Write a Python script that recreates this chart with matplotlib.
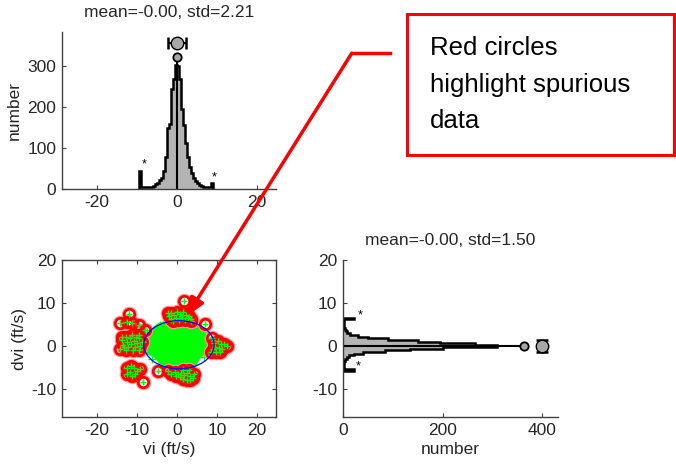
import numpy as np
import matplotlib
matplotlib.use("Agg")
import matplotlib.pyplot as plt
from matplotlib.patches import Ellipse, Rectangle, FancyArrowPatch, Polygon
from matplotlib.lines import Line2D

plt.rcParams['font.family'] = ['Liberation Sans', 'DejaVu Sans']
plt.rcParams['axes.unicode_minus'] = False
plt.rcParams['font.size'] = 12.5

# ---- data ----
# top histogram of vi, bins 0.5 ft/s wide starting at -9.5
vi_edges = np.arange(-9.5, 9.01, 0.5)
vi_counts = [45, 6, 5, 4, 4, 5, 6, 8, 11, 15, 22, 28, 45, 78, 150, 158, 245, 268, 302,
             300, 268, 195, 155, 112, 78, 54, 38, 27, 20, 15, 10, 7, 6, 5, 4, 5, 15]
vi_mean = 0.0
vi_std = 2.21
vi_peak_mark = 323
vi_mean_mark = 357

# right histogram of dvi, bins 0.4 ft/s wide starting at -5.8
dvi_edges = np.arange(-5.8, 6.61, 0.4)
dvi_counts = [23, 2, 2, 2, 3, 3, 5, 8, 13, 22, 40, 85, 135, 200, 310, 265, 195, 150,
              90, 50, 30, 15, 9, 6, 4, 3, 3, 2, 2, 2, 23]
dvi_mean = 0.0
dvi_std = 1.50
dvi_peak_mark = 364
dvi_mean_mark = 400

# outline of the dense green cloud
core_vi = [-2, -4.2, -5.5, -6.8, -8, -8.5, -8.3, -7.2, -5.5, -3.8, -2, 0.5, 3, 4.5,
           5.8, 7.5, 8.3, 8.5, 8, 6.5, 4.9, 3.3, 2.5, 0.5]
core_dvi = [5.8, 5.3, 4.5, 3, 1.4, 0, -0.9, -1.8, -2.5, -4.5, -5.5, -5.8, -5.5, -4.5,
            -2.5, -1.2, -0.5, 0, 1.4, 3, 4.5, 5.3, 5.8, 6]

# loose green points near the cloud edge
loose_vi = [-7.5, -6.5, -4.2, 5.0, 7.0, -8.8, 4.6, -6.2, 6.8, 3.8, -3.5, 8.9]
loose_dvi = [3.2, 3.8, 4.9, 4.8, 3.2, -0.5, -5.0, -3.0, -2.6, 5.4, -5.1, 0.6]

# spurious points (red circles)
spur_vi = [-2.0, -1.4, -0.8, 0.0, 0.8, 1.5, 2.2, 2.9, 3.4, -1.6, -0.9, -0.2, 0.6, 1.3, 2.0, 2.7, -2.2, 1.0, 3.6,
           -11.9, -14.25, -11.3, -9.4, -12.6, -8.0, -9.4, -13.8, 7.0, 1.75,
           -14.3, -13.5, -13.8, -12.8, -12.5, -12.2, -11.5, -11.8, -10.8, -10.5, -10.0, -9.5, -9.2, -9.6, -11.0, -12.8, -13.2, -10.2, -11.2, -8.8,
           -12.5, -11.5, -10.8, -11.8, -10.5, -12.6, -11.2, -9.2, -8.4, -10.0,
           -4.7, -2.2, -1.5, -0.6, 0.2, 1.0, 1.8, 2.5, 3.3, 3.9, 0.8, 1.6, 2.4, 3.2, -0.3, 2.9, 1.4, 4.2,
           9.3, 10.2, 11.0, 9.6, 10.5, 11.3, 12.4, 9.8, 10.8, 9.0, 11.8, 8.7, 8.5]
spur_dvi = [7.0, 7.7, 7.3, 7.8, 7.5, 7.9, 7.3, 7.0, 6.3, 6.2, 5.9, 6.6, 6.1, 6.5, 6.0, 6.4, 7.6, 7.0, 5.9,
            7.4, 5.3, 5.3, 5.0, 5.5, 3.7, 2.6, 2.2, 5.1, 10.4,
            -0.6, 0.3, 1.4, 2.2, 1.0, -0.3, 0.5, 1.8, 1.2, -0.2, 0.8, 1.8, 0.0, -0.9, -0.9, -0.9, -0.2, 2.2, 2.5, 0.9,
            -5.2, -4.6, -5.2, -6.0, -6.5, -6.4, -7.0, -5.3, -8.3, -5.8,
            -5.7, -5.8, -6.4, -6.0, -6.6, -6.2, -6.8, -6.3, -6.9, -7.4, -7.3, -7.6, -7.8, -7.9, -7.0, -5.6, -5.5, -6.5,
            0.8, 1.2, 0.5, -0.2, -0.5, -0.6, -0.1, -1.3, -1.5, -0.6, 0.4, 1.8, -1.5]

# blue ellipse round the good data
ell_center = (0.5, 0.3)
ell_width = 17.6
ell_height = 11.2

note_lines = ["Red circles", "highlight spurious", "data"]

# ---- figure ----
W, H = 676.0, 465.0
fig = plt.figure(figsize=(W / 100, H / 100), dpi=100)
txt = '#262626'
gray = '#b4b4b4'


def px_axes(l, t, r, b):
    return fig.add_axes([l / W, 1 - b / H, (r - l) / W, (b - t) / H])


def style(ax, box):
    for s in ['top', 'right']:
        ax.spines[s].set_visible(box)
    for s in ax.spines.values():
        s.set_color('#404040')
        s.set_linewidth(1.0)
    ax.tick_params(direction='in', length=3, pad=4, colors='#404040', labelcolor=txt,
                   top=box, right=box, labelsize=12.5)


ax1 = px_axes(62, 32, 276, 189)
ax2 = px_axes(62, 260, 276, 417)
ax3 = px_axes(343, 260, 558, 417)

# top histogram
ax1.stairs(vi_counts, vi_edges, fill=True, color=gray, baseline=0)
ax1.stairs(vi_counts, vi_edges, color='black', lw=1.8, baseline=0)
ax1.plot([vi_mean, vi_mean], [0, vi_peak_mark], color='black', lw=1.5)
ax1.plot(vi_mean, vi_peak_mark, 'o', ms=6, mfc='#a8a8a8', mec='black', mew=1.3)
ax1.errorbar(vi_mean, vi_mean_mark, xerr=vi_std, fmt='o', ms=9, mfc='#a8a8a8', mec='black',
             ecolor='black', elinewidth=1.5, capsize=4, capthick=1.8)
ax1.text(-8.25, 61, '*', ha='center', va='center', fontsize=9)
ax1.text(9.25, 27, '*', ha='center', va='center', fontsize=9)
ax1.set_xlim(-28.75, 24.75)
ax1.set_ylim(0, 383)
ax1.set_xticks([-20, 0, 20])
ax1.set_yticks([0, 100, 200, 300])
ax1.set_ylabel('number', color=txt, labelpad=4)
ax1.set_title('mean=-0.00, std=%.2f' % vi_std, color=txt, fontsize=12.5, pad=11)
style(ax1, False)

# scatter
ax2.add_patch(Polygon(np.column_stack([core_vi, core_dvi]), closed=True,
                      fc='#00ff00', ec='#00ff00', lw=1.5, zorder=1))
ax2.plot(loose_vi, loose_dvi, '+', color='#00ff00', ms=6, mew=1, zorder=2)
# soft pink rim, then the red circle itself
ax2.plot(spur_vi, spur_dvi, 'o', mfc='none', mec='#ff9a9a', ms=10, mew=1.2, zorder=2.5)
ax2.plot(spur_vi, spur_dvi, 'o', mfc='none', mec='red', ms=7.5, mew=2, zorder=3)
ax2.plot(spur_vi, spur_dvi, '+', color='#00ff00', ms=5, mew=1, zorder=4)
ax2.add_patch(Ellipse(ell_center, ell_width, ell_height, ec='blue', fc='none', lw=0.9, zorder=5))
ax2.set_xlim(-28.75, 24.75)
ax2.set_ylim(-16.5, 20)
ax2.set_xticks([-20, -10, 0, 10, 20])
ax2.set_yticks([-10, 0, 10, 20])
ax2.set_xlabel('vi (ft/s)', color=txt, labelpad=3)
ax2.set_ylabel('dvi (ft/s)', color=txt, labelpad=3)
style(ax2, True)

# right histogram
ax3.stairs(dvi_counts, dvi_edges, fill=True, color=gray, baseline=0, orientation='horizontal')
ax3.stairs(dvi_counts, dvi_edges, color='black', lw=1.8, baseline=0, orientation='horizontal')
ax3.plot([0, dvi_peak_mark], [dvi_mean, dvi_mean], color='black', lw=1.5)
ax3.plot(dvi_peak_mark, dvi_mean, 'o', ms=6, mfc='#a8a8a8', mec='black', mew=1.3)
ax3.errorbar(dvi_mean_mark, dvi_mean, yerr=dvi_std, fmt='o', ms=9, mfc='#a8a8a8', mec='black',
             ecolor='black', elinewidth=1.5, capsize=4, capthick=1.8)
ax3.text(34, 7.0, '*', ha='center', va='center', fontsize=9)
ax3.text(31, -4.8, '*', ha='center', va='center', fontsize=9)
ax3.set_xlim(0, 432)
ax3.set_ylim(-16.5, 20)
ax3.set_xticks([0, 200, 400])
ax3.set_yticks([-10, 0, 10, 20])
ax3.set_xlabel('number', color=txt, labelpad=3)
ax3.set_title('mean=-0.00, std=%.2f' % dvi_std, color=txt, fontsize=12.5, pad=11)
style(ax3, False)

# callout box and arrow
fig.add_artist(Rectangle((407 / W, 1 - 155 / H), (674 - 407) / W, (155 - 14) / H,
                         transform=fig.transFigure, fc='white', ec='red', lw=2.2))
for line, yb in zip(note_lines, [55, 92, 128]):
    fig.text(430 / W, 1 - yb / H, line, fontsize=18.5, color='black', va='baseline')
fig.add_artist(Line2D([390 / W, 351.7 / W], [1 - 53.3 / H, 1 - 53.3 / H],
                      transform=fig.transFigure, color='red', lw=2.5))
fig.add_artist(FancyArrowPatch((351.7 / W, 1 - 53.3 / H), (186.5 / W, 1 - 316.5 / H),
                               transform=fig.transFigure,
                               arrowstyle='-|>,head_length=1.1,head_width=0.45',
                               mutation_scale=10, color='red', lw=2.5,
                               shrinkA=0, shrinkB=0))

fig.savefig('out.png', dpi=100)
